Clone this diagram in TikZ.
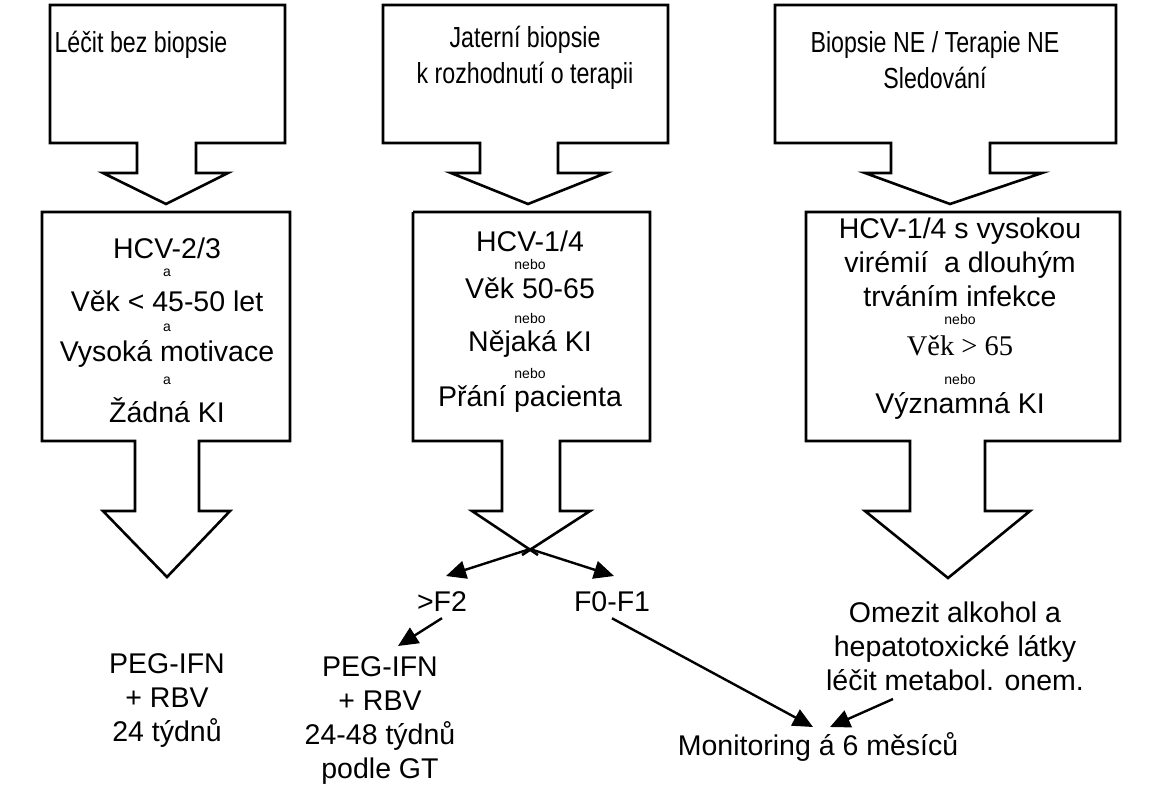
\documentclass[tikz,border=0pt]{standalone}
\usepackage{fontspec}
\setmainfont{Liberation Sans}
\usetikzlibrary{arrows.meta}
\begin{document}
\begin{tikzpicture}[x=1pt,y=-1pt,
	box/.style={line width=2.6pt,line join=miter},
	txt/.style={font=\fontsize{28.5}{34}\selectfont,inner sep=0pt},
	top/.style={font=\fontsize{29}{36}\selectfont,inner sep=0pt,xscale=0.8},
	small/.style={font=\fontsize{14}{16}\selectfont,inner sep=0pt},
	arr/.style={line width=2.4pt,-{Triangle[length=20pt,width=18pt]}}]
		\useasboundingbox (0,0) rectangle (1159,800);

		% Column 1
		\draw[box] (50,5) -- (285,5) -- (285,143) -- (196,143) -- (196,173) -- (228,173) -- (166,204)
			-- (103,173) -- (137,173) -- (137,143) -- (50,143) -- cycle;
		\draw[box] (42,212) -- (290,212) -- (290,441) -- (199,441) -- (199,511) -- (230,511) -- (167,577)
			-- (103,511) -- (135,511) -- (135,441) -- (42,441) -- cycle;
		\node[top] (t1) at (141,45) {Léčit bez biopsie};
		\node[txt] (c1a) at (167,248) {HCV-2/3};
		\node[small] at (167,273) {a};
		\node[txt] (c1b) at (167,301) {Věk < 45-50 let};
		\node[small] at (167,328) {a};
		\node[txt] (c1c) at (167,354) {Vysoká motivace};
		\node[small] at (167,381) {a};
		\node[txt] (c1d) at (167,410) {Žádná KI};
		\node[txt,align=center] (r1) at (167,700) {PEG-IFN\\+ RBV\\24 týdnů};

		% Column 2
		\draw[box] (383,5) -- (668,5) -- (668,143) -- (558,143) -- (558,173) -- (606,173) -- (528,204)
			-- (451,173) -- (480,173) -- (480,143) -- (383,143) -- cycle;
		\draw[box] (413,212) -- (650,212) -- (650,441) -- (560,441) -- (560,511) -- (590,511) -- (522,555);
		\draw[box] (413,212) -- (413,441) -- (502,441) -- (502,511) -- (472,511) -- (538,555);
		\coordinate (x2) at (530,549);
		\node[top,align=center] (t2) at (525,58) {Jaterní biopsie\\k rozhodnutí o terapii};
		\node[txt] (c2a) at (530,241) {HCV-1/4};
		\node[small] at (530,264) {nebo};
		\node[txt] (c2b) at (530,288) {Věk 50-65};
		\node[small] at (530,318) {nebo};
		\node[txt] (c2c) at (530,344) {Nějaká KI};
		\node[small] at (530,373) {nebo};
		\node[txt] (c2d) at (530,399) {Přání pacienta};
		\node[txt] (f2) at (442,602) {>F2};
		\node[txt] (f01) at (612,602) {F0-F1};
		\node[txt,align=center] (r2) at (380,720) {PEG-IFN\\+ RBV\\24-48 týdnů\\podle GT};
		\draw[arr] (x2) -- (446,576);
		\draw[arr] (x2) -- (614,576);
		\draw[arr] (f2.south) ++(0,6) -- (398,646);

		% Column 3
		\draw[box] (775,5) -- (1116,5) -- (1116,143) -- (990,143) -- (990,173) -- (1042,173) -- (950,204)
			-- (865,173) -- (891,173) -- (891,143) -- (775,143) -- cycle;
		\draw[box] (806,212) -- (1120,212) -- (1120,441) -- (985,441) -- (985,511) -- (1030,511) -- (948,578)
			-- (865,511) -- (910,511) -- (910,441) -- (806,441) -- cycle;
		\node[top,align=center] (t3) at (935,60) {Biopsie NE / Terapie NE\\Sledování};
		\node[txt,align=center] (c3a) at (960,262) {HCV-1/4 s vysokou\\virémií~ a dlouhým\\trváním infekce};
		\node[small] at (960,319) {nebo};
		\node[txt] (c3b) at (960,346) {\fontspec{Liberation Serif}Věk > 65};
		\node[small] at (960,379) {nebo};
		\node[txt] (c3c) at (960,406) {Významná KI};
		\node[txt,align=center] (r3) at (955,646) {Omezit alkohol a\\hepatotoxické látky\\léčit metabol. onem.};

		% Monitoring
		\node[txt] (mon) at (818,747) {Monitoring á 6 měsíců};
		\draw[arr] (f01.south) ++(0,6) -- (813,727);
		\draw[arr] (893,699) -- (830,727);
	\end{tikzpicture}
\end{document}
